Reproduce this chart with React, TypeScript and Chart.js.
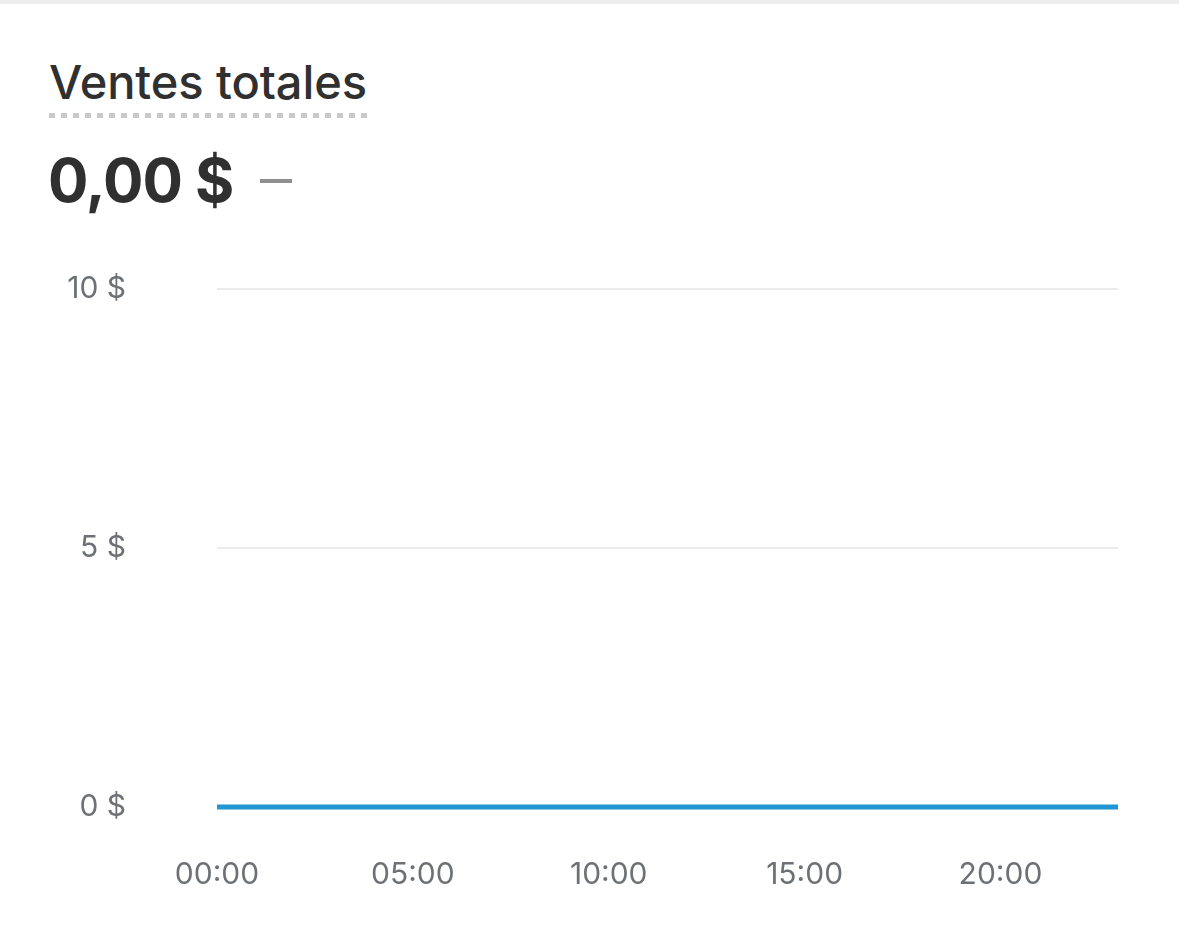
import React, { useEffect, useRef } from "react";
import { Chart, registerables } from "chart.js";

Chart.register(...registerables);

const hours: string[] = [
  "00:00", "01:00", "02:00", "03:00", "04:00", "05:00", "06:00", "07:00",
  "08:00", "09:00", "10:00", "11:00", "12:00", "13:00", "14:00", "15:00",
  "16:00", "17:00", "18:00", "19:00", "20:00", "21:00", "22:00", "23:00",
];
const sales: number[] = [
  0, 0, 0, 0, 0, 0, 0, 0, 0, 0, 0, 0,
  0, 0, 0, 0, 0, 0, 0, 0, 0, 0, 0, 0,
];
const yTicks: number[] = [0, 5, 10];
const title = "Ventes totales";
const totalText = "0,00 $";

const FONT = "Inter, 'Noto Sans', sans-serif";

export default function App() {
  const ref = useRef<HTMLCanvasElement | null>(null);

  useEffect(() => {
    if (!ref.current) return;
    const chart = new Chart(ref.current, {
      type: "line",
      data: {
        labels: hours,
        datasets: [
          {
            data: sales,
            borderColor: "#2196d3",
            borderWidth: 5,
            pointRadius: 0,
            pointHoverRadius: 0,
            tension: 0,
            fill: false,
            clip: false,
          } as any,
        ],
      },
      options: {
        animation: false,
        responsive: false,
        devicePixelRatio: 1,
        layout: { padding: { top: 49, right: 61, bottom: 0, left: 0 } },
        plugins: { legend: { display: false }, tooltip: { enabled: false } },
        scales: {
          x: {
            grid: { display: false, drawTicks: false },
            border: { display: false },
            ticks: {
              autoSkip: false,
              maxRotation: 0,
              padding: 50,
              color: "#6d7175",
              font: { family: FONT, size: 30 },
              callback: (_v: any, i: number) => (i % 5 === 0 ? hours[i] : ""),
            },
            afterFit: (s: any) => {
              s.height = 136;
              s.paddingLeft = 0;
              s.paddingRight = 0;
            },
          },
          y: {
            min: yTicks[0],
            max: yTicks[yTicks.length - 1],
            grid: {
              color: (ctx: any) => (ctx.tick && ctx.tick.value === 0 ? "rgba(0,0,0,0)" : "#ebebeb"),
              lineWidth: 2,
              drawTicks: false,
            },
            border: { display: false },
            ticks: {
              stepSize: 5,
              padding: 91,
              color: "#6d7175",
              font: { family: FONT, size: 30 },
              callback: (v: any) => `${v} $`,
            },
            afterFit: (s: any) => {
              s.width = 217;
              s.paddingTop = 18;
              s.paddingBottom = 18;
            },
          },
        },
      },
    });
    return () => chart.destroy();
  }, []);

  return (
    <div
      style={{
        position: "fixed",
        left: 0,
        top: 0,
        width: 1179,
        height: 943,
        overflow: "hidden",
        background: "#ffffff",
        fontFamily: FONT,
      }}
    >
      <canvas
        ref={ref}
        width={1179}
        height={703}
        style={{ position: "absolute", left: 0, top: 240, width: 1179, height: 703 }}
      />
      <div style={{ position: "absolute", left: 0, top: 0, width: 1179, height: 4, background: "#ededed" }} />
      <div
        style={{
          position: "absolute",
          left: 49,
          top: 52,
          fontSize: 47,
          fontWeight: 500,
          color: "#303030",
          lineHeight: "60px",
          whiteSpace: "nowrap",
          letterSpacing: "-0.1px",
        }}
      >
        {title}
        <div
          style={{
            height: 5,
            marginTop: 1,
            backgroundImage: "linear-gradient(to right, #c9c9c9 0 6px, transparent 6px 12px)",
            backgroundSize: "12px 5px",
          }}
        />
      </div>
      <div
        style={{
          position: "absolute",
          left: 48,
          top: 140,
          fontSize: 60,
          fontWeight: 700,
          color: "#303030",
          lineHeight: "80px",
          whiteSpace: "nowrap",
          display: "flex",
          alignItems: "center",
          letterSpacing: "-1px",
        }}
      >
        <span>{totalText}</span>
        <span style={{ display: "inline-block", width: 32, height: 4, background: "#8f8f8f", marginLeft: 27, marginTop: 2 }} />
      </div>
    </div>
  );
}
